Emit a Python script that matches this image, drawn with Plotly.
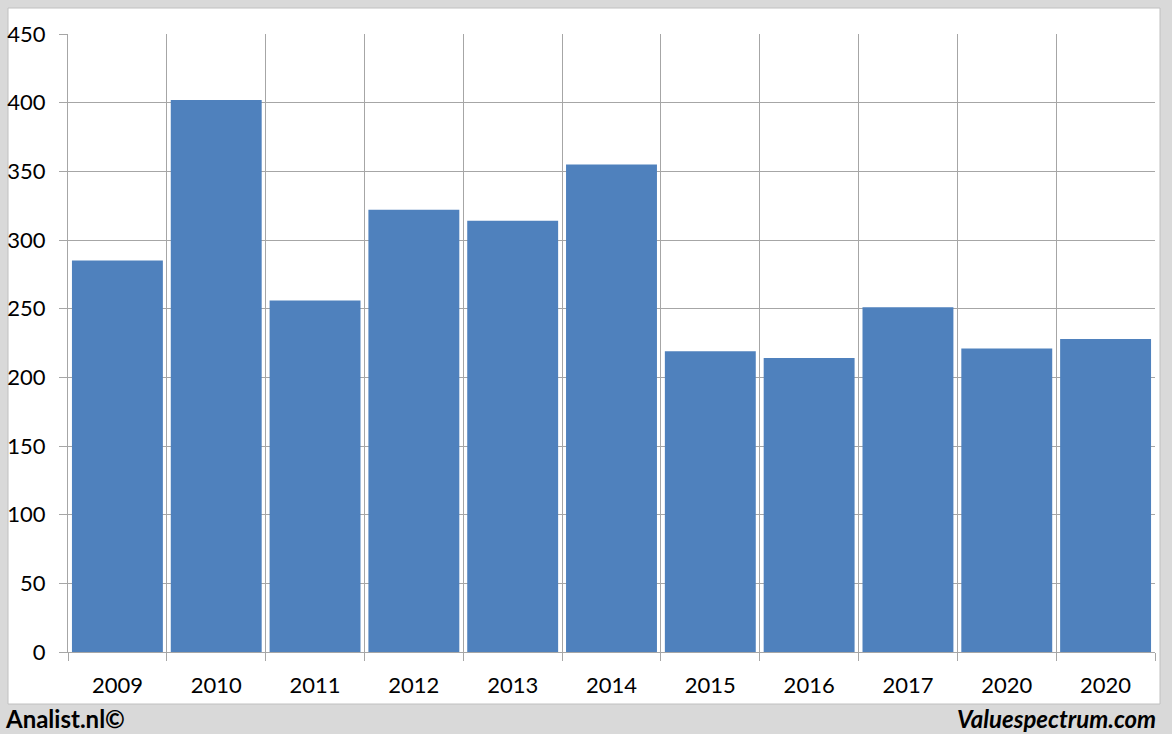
import plotly.graph_objects as go

categories = ["2009", "2010", "2011", "2012", "2013", "2014", "2015", "2016", "2017", "2020", "2020"]
values = [285, 402, 256, 322, 314, 355, 219, 214, 251, 221, 228]
y_ticks = [0, 50, 100, 150, 200, 250, 300, 350, 400, 450]

positions = list(range(len(categories)))
boundaries = [p - 0.5 for p in positions] + [positions[-1] + 0.5]

FONT = "Lato, 'Open Sans', sans-serif"
GRID = "#a6a6a6"

fig = go.Figure()
fig.add_trace(go.Bar(
    x=positions, y=values,
    marker=dict(color="#4f81bd", line=dict(width=0)),
    hoverinfo="x+y",
))

fig.update_layout(
    width=1172, height=734,
    margin=dict(l=68, r=17, t=34, b=82, autoexpand=False),
    paper_bgcolor="#d9d9d9",
    plot_bgcolor="#ffffff",
    bargap=0.08,
    showlegend=False,
    font=dict(family=FONT, size=22, color="#000000"),
    xaxis=dict(
        range=[-0.5, len(categories) - 0.5],
        tickvals=positions, ticktext=categories,
        ticks="outside", ticklen=14, tickcolor="rgba(0,0,0,0)",
        showgrid=False, zeroline=False, automargin=False,
        showline=True, linecolor=GRID, linewidth=1,
        minor=dict(tickvals=boundaries, ticks="outside", ticklen=8,
                   tickcolor=GRID, showgrid=True, gridcolor=GRID, gridwidth=1),
        tickfont=dict(family=FONT, size=22),
        fixedrange=True,
    ),
    yaxis=dict(
        range=[0, 450],
        tickvals=y_ticks,
        ticks="outside", ticklen=8, tickcolor=GRID,
        showgrid=True, gridcolor=GRID, gridwidth=1,
        zeroline=False, showline=True, linecolor=GRID, linewidth=1,
        automargin=False,
        tickfont=dict(family=FONT, size=22),
        ticklabelstandoff=9,
        fixedrange=True,
    ),
    shapes=[dict(
        type="rect", xref="paper", yref="paper",
        x0=-60 / 1087, x1=1 + 5 / 1087, y0=-52 / 618, y1=1 + 26 / 618,
        fillcolor="#ffffff", line=dict(color="#c0c0c0", width=1), layer="below",
    )],
    annotations=[
        dict(text="<b>Analist.nl©</b>", xref="paper", yref="paper",
             x=-65 / 1087, y=-66 / 618, xanchor="left", yanchor="middle",
             showarrow=False, font=dict(family=FONT, size=24, color="#000000")),
        dict(text="<b><i>Valuespectrum.com</i></b>", xref="paper", yref="paper",
             x=1 + 3 / 1087, y=-66 / 618, xanchor="right", yanchor="middle",
             showarrow=False, font=dict(family=FONT, size=24, color="#000000")),
    ],
)

fig.write_html(
    "out.html",
    config={"displayModeBar": False},
    post_script="document.body.style.margin='0';document.body.style.overflow='hidden';",
)
